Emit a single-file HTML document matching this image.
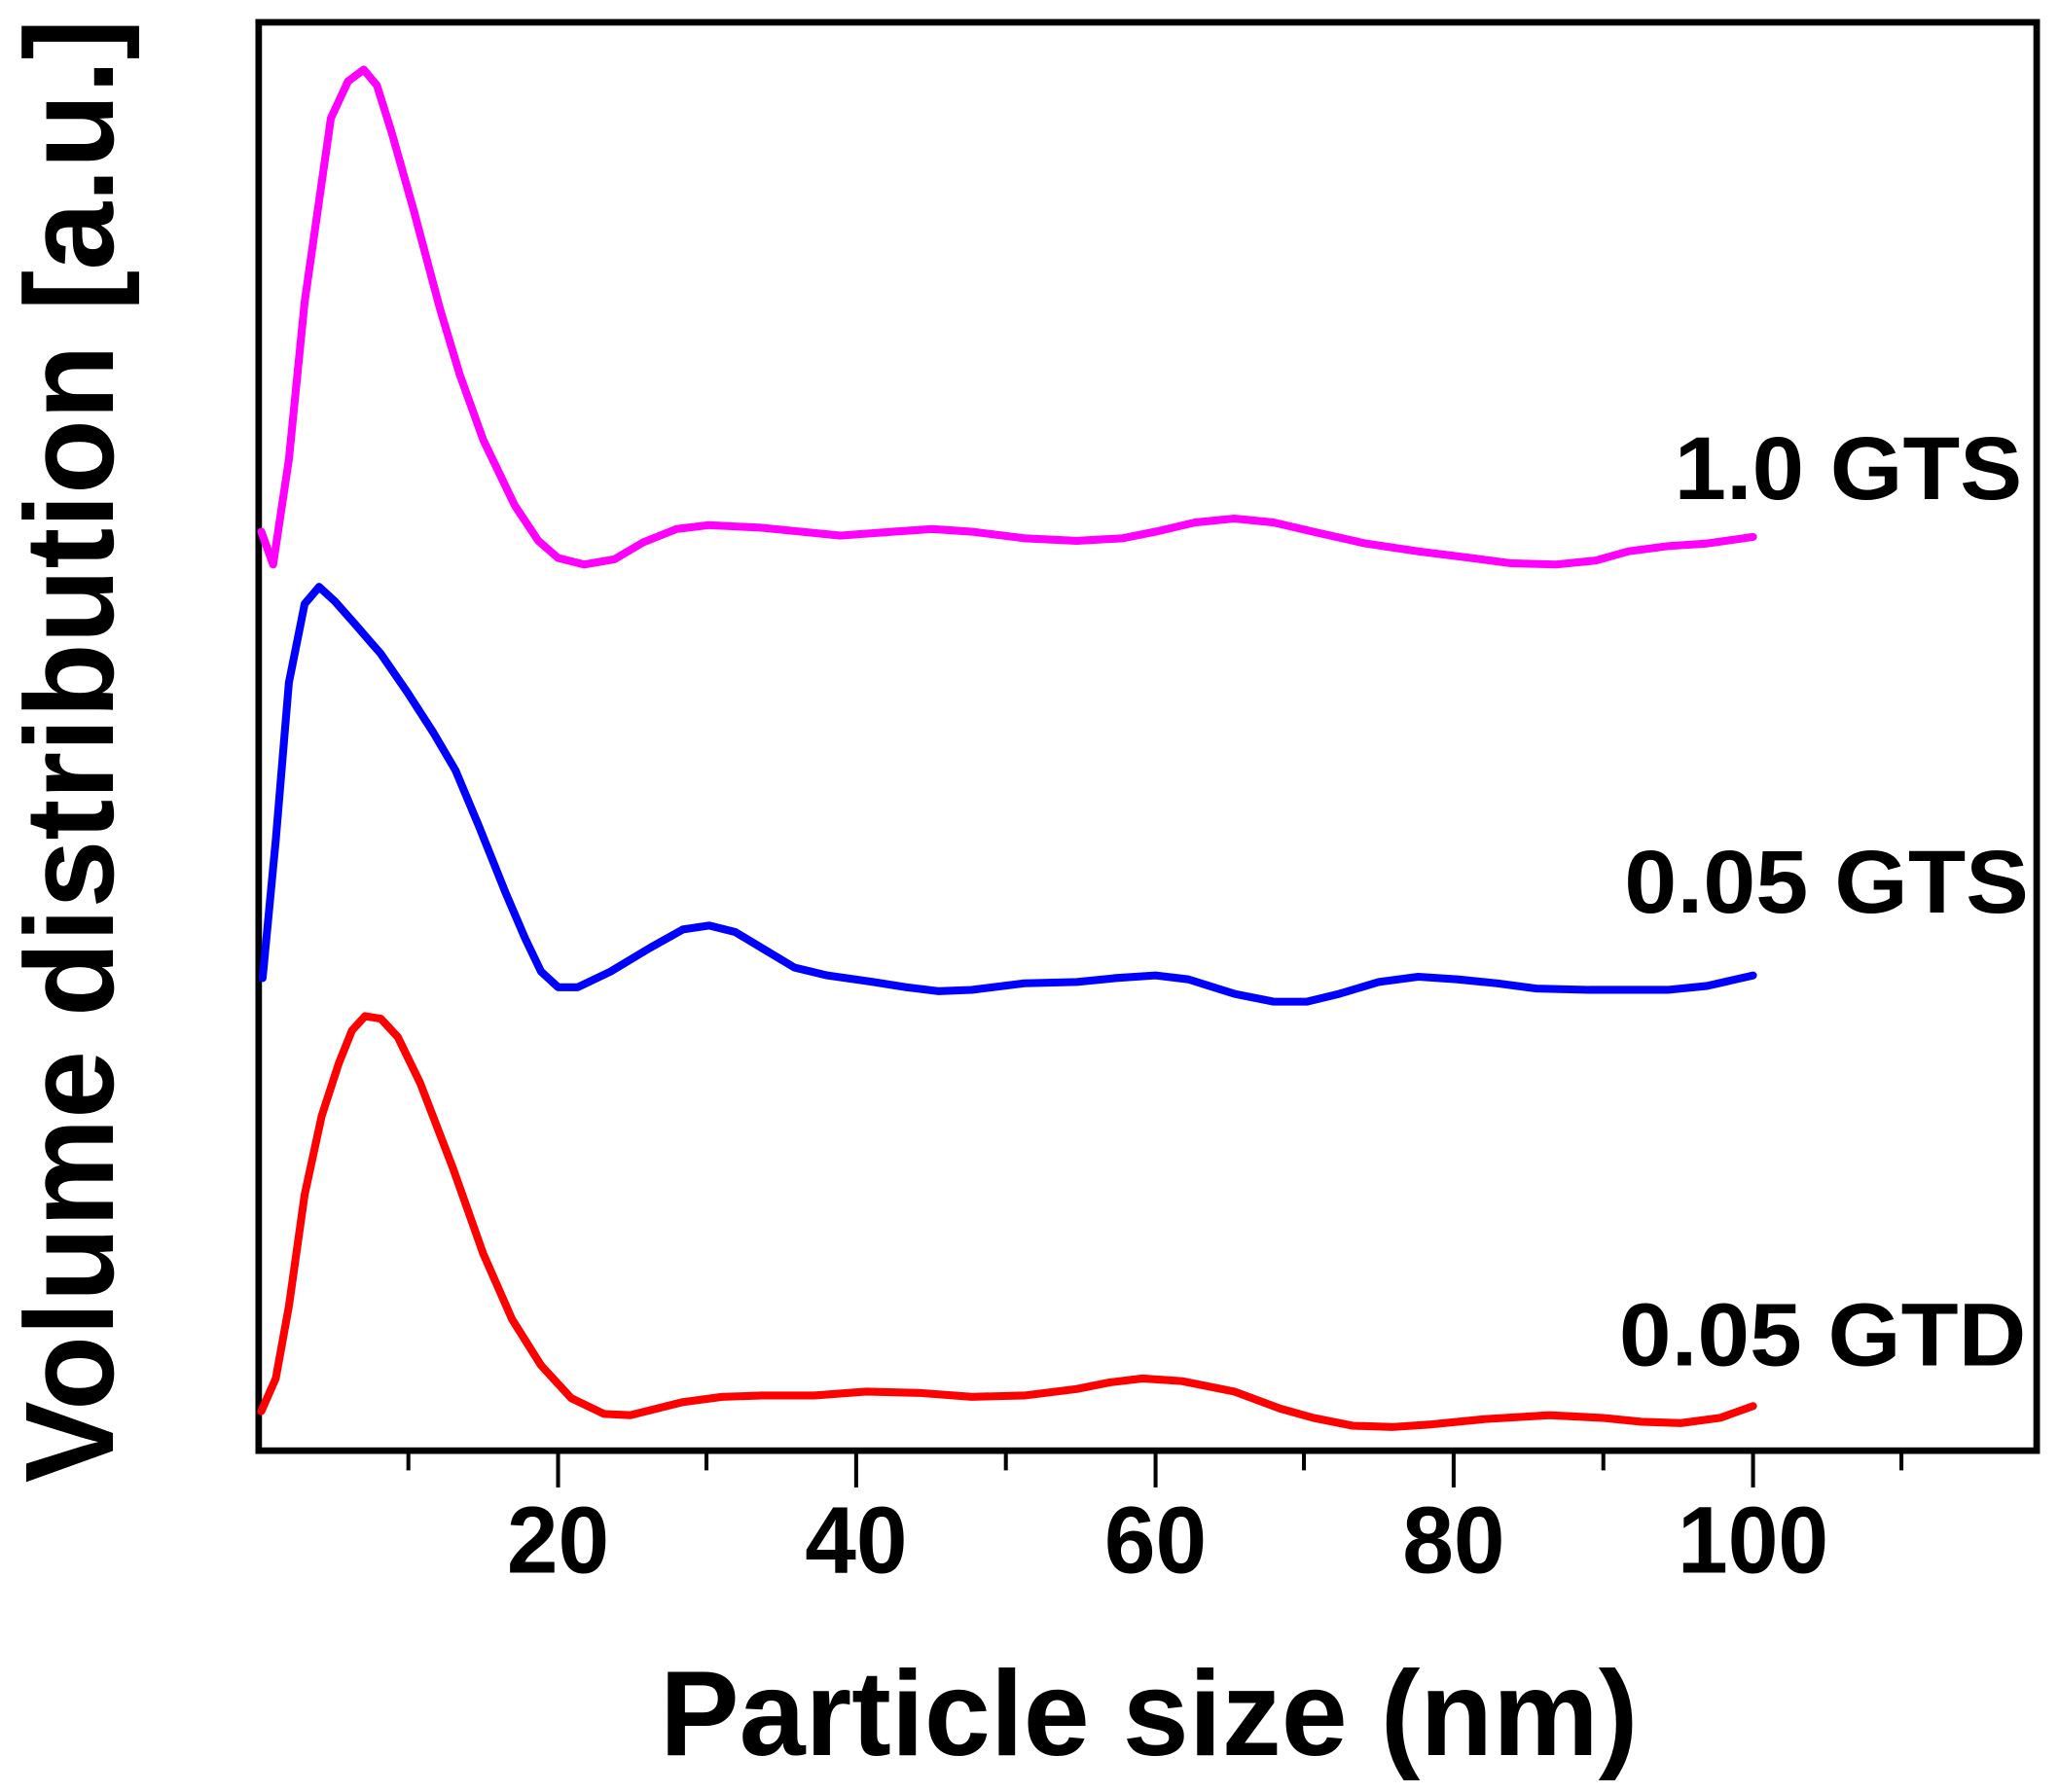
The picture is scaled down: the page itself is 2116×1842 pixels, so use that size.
<!DOCTYPE html>
<html><head><meta charset="utf-8"><style>html,body{margin:0;padding:0;background:#fff}svg{display:block}</style></head>
<body>
<svg width="2116" height="1842" viewBox="0 0 1568 1365" preserveAspectRatio="none" xmlns="http://www.w3.org/2000/svg" font-family="Liberation Sans, Arial, sans-serif" font-weight="bold">
<rect x="197" y="17" width="1354" height="1088" fill="none" stroke="#000" stroke-width="5"/>
<g stroke="#000" stroke-width="3">
<line x1="311" y1="1105" x2="311" y2="1120"/><line x1="425" y1="1105" x2="425" y2="1133"/>
<line x1="538" y1="1105" x2="538" y2="1120"/><line x1="652" y1="1105" x2="652" y2="1133"/>
<line x1="766" y1="1105" x2="766" y2="1120"/><line x1="880" y1="1105" x2="880" y2="1133"/>
<line x1="993" y1="1105" x2="993" y2="1120"/><line x1="1107" y1="1105" x2="1107" y2="1133"/>
<line x1="1221" y1="1105" x2="1221" y2="1120"/><line x1="1335" y1="1105" x2="1335" y2="1133"/>
<line x1="1448" y1="1105" x2="1448" y2="1120"/>
</g>
<g font-size="72" text-anchor="middle">
<text x="425" y="1198" textLength="78" lengthAdjust="spacingAndGlyphs">20</text>
<text x="652" y="1198" textLength="78" lengthAdjust="spacingAndGlyphs">40</text>
<text x="880" y="1198" textLength="78" lengthAdjust="spacingAndGlyphs">60</text>
<text x="1107" y="1198" textLength="78" lengthAdjust="spacingAndGlyphs">80</text>
<text x="1335" y="1198" textLength="115" lengthAdjust="spacingAndGlyphs">100</text>
</g>
<text x="875" y="1337" font-size="92" text-anchor="middle" textLength="745" lengthAdjust="spacingAndGlyphs">Particle size (nm)</text>
<text transform="translate(86,572) rotate(-90)" font-size="96" text-anchor="middle" textLength="1115" lengthAdjust="spacingAndGlyphs">Volume distribution [a.u.]</text>
<g font-size="68" text-anchor="end">
<text x="1540" y="380" textLength="265" lengthAdjust="spacingAndGlyphs">1.0 GTS</text>
<text x="1545" y="695" textLength="308" lengthAdjust="spacingAndGlyphs">0.05 GTS</text>
<text x="1543" y="1040" textLength="310" lengthAdjust="spacingAndGlyphs">0.05 GTD</text>
</g>
<g fill="none" stroke-width="6" stroke-linejoin="round" stroke-linecap="round">
<polyline stroke="#ff00ff" points="199,405 208,430 220,350 232,230 252,90 265,62 277,53 287,65 298,100 315,160 335,235 350,285 368,335 392,385 410,412 425,425 445,430 468,426 490,413 515,403 540,400 580,402 610,405 640,408 680,405 710,403 740,405 780,410 820,412 855,410 880,405 910,398 940,395 970,398 1000,405 1040,414 1080,420 1120,425 1150,429 1185,430 1215,427 1240,420 1270,416 1300,414 1335,409"/>
<polyline stroke="#0000ff" points="200,745 210,640 220,520 232,460 243,447 255,458 270,475 290,498 310,527 330,558 347,587 365,630 385,680 400,715 412,740 425,752 440,752 465,740 495,722 520,708 540,705 560,710 585,725 605,737 630,743 665,748 690,752 715,755 740,754 780,749 820,748 850,745 880,743 905,746 940,757 970,763 995,763 1020,757 1050,748 1080,744 1110,746 1140,749 1170,753 1210,754 1270,754 1300,751 1335,743"/>
<polyline stroke="#ff0000" points="199,1075 210,1050 220,995 232,910 245,850 258,810 268,785 278,774 290,776 303,790 320,825 345,890 368,955 390,1005 412,1040 435,1065 460,1077 480,1078 500,1073 520,1068 550,1064 580,1063 620,1063 660,1060 700,1061 740,1064 780,1063 820,1058 845,1053 870,1050 900,1052 940,1060 975,1073 1000,1080 1030,1086 1060,1087 1090,1085 1130,1081 1180,1078 1220,1080 1250,1083 1280,1084 1310,1080 1335,1071"/>
</g>
</svg>
</body></html>
